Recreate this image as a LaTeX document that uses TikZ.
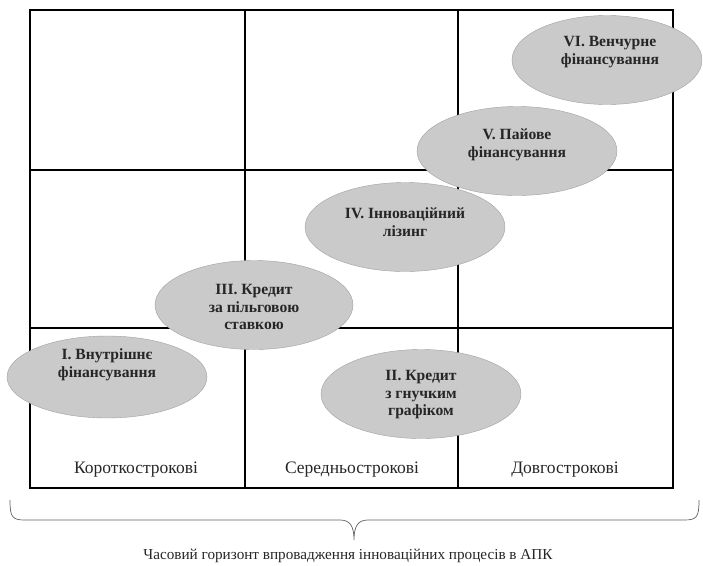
\documentclass[tikz,border=0pt]{standalone}
\usepackage{fontspec}
\setmainfont{Liberation Serif}
\usetikzlibrary{shapes, positioning}
\definecolor{stagefill}{RGB}{202,202,202}
\definecolor{stageline}{RGB}{160,160,160}
\definecolor{inktext}{RGB}{38,38,38}
\tikzset{
    stage/.style={ellipse, draw=stageline, fill=stagefill, minimum width=200pt, minimum height=89pt, inner sep=0pt},
    stagetext/.style={align=center, font=\bfseries\fontsize{15.6}{17.5}\selectfont, text=inktext},
    term/.style={font=\fontsize{17.5}{20}\selectfont, text=inktext},
    grid/.style={line width=1.6pt, black}
}
\begin{document}
\begin{tikzpicture}[x=1pt, y=-1pt]
    \useasboundingbox (0,0) rectangle (703,565);
    % table
    \draw[grid] (30,10) rectangle (673,488);
    \foreach \x in {245, 458} \draw[grid] (\x,10) -- (\x,488);
    \foreach \y in {170, 328} \draw[grid] (30,\y) -- (673,\y);

    \node[term] (short) at (136,470) {Короткострокові};
    \node[term] (mid) at (352,470) {Середньострокові};
    \node[term] (long) at (565,470) {Довгострокові};

    % stages
    \node[stage, minimum height=82pt] (s1) at (107,377) {};
    \node[stage] (s2) at (421,394) {};
    \node[stage, minimum width=198pt] (s3) at (254,305) {};
    \node[stage] (s4) at (405,227) {};
    \node[stage] (s5) at (517,151) {};
    \node[stage, minimum width=190pt] (s6) at (607,60) {};

    \node[stagetext] (t1) at (107,365) {I. Внутрішнє\\фінансування};
    \node[stagetext] (t2) at (421,395) {II. Кредит\\з гнучким\\графіком};
    \node[stagetext] (t3) at (254,307) {III. Кредит\\за пільговою\\ставкою};
    \node[stagetext] (t4) at (405,222) {IV. Інноваційний\\лізинг};
    \node[stagetext] (t5) at (517,145) {V. Пайове\\фінансування};
    \node[stagetext] (t6) at (610,52) {VI. Венчурне\\фінансування};

    % brace
    \draw[stageline!60!black, line width=0.7pt] (10,500) .. controls (10,517) and (12,520) .. (25,520)
        -- (340,520) .. controls (350,520) and (354,526) .. (354,540)
        .. controls (354,526) and (358,520) .. (368,520)
        -- (684,520) .. controls (697,520) and (699,517) .. (699,500);
    \node[font=\fontsize{15.2}{18}\selectfont, text=inktext] (horizon) at (348,556) {Часовий горизонт впровадження інноваційних процесів в АПК};
\end{tikzpicture}
\end{document}
